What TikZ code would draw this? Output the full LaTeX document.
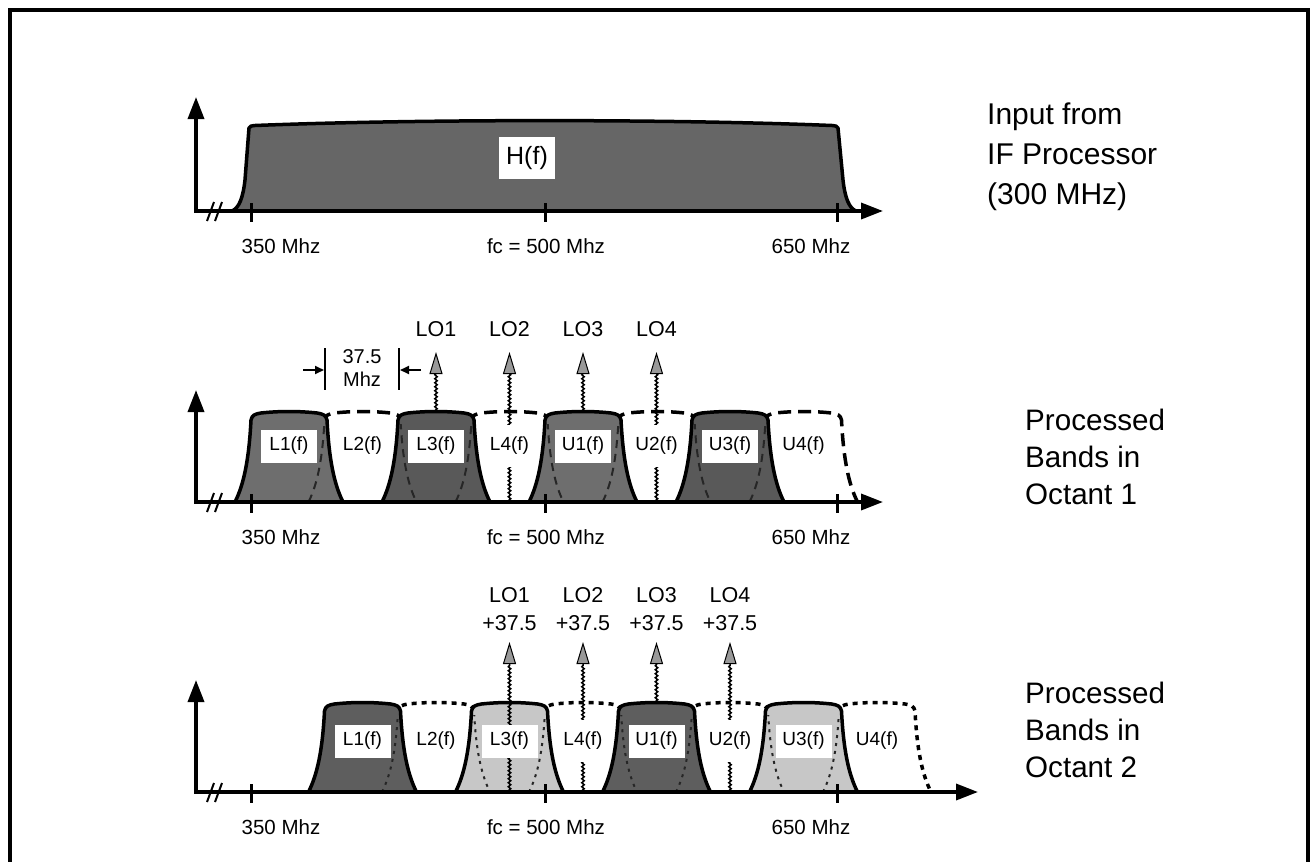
\documentclass[tikz,border=0pt]{standalone}
\usepackage{fontspec}
\setmainfont{Liberation Sans}
\usetikzlibrary{arrows.meta,decorations.pathmorphing}

% band outline: centre, top y, bottom y (pixel coordinates, y downwards)
\newcommand\bandp[3]{({#1-54},#3) .. controls ({#1-45},{#3-18}) and ({#1-40},{#2+45}) .. ({#1-38},{#2+6}) .. controls ({#1-37},{#2+1}) and ({#1-34},{#2}) .. ({#1-28},{#2-1}) .. controls ({#1-10},{#2-3}) and ({#1+10},{#2-3}) .. ({#1+28},{#2-1}) .. controls ({#1+34},{#2}) and ({#1+37},{#2+1}) .. ({#1+38},{#2+6}) .. controls ({#1+40},{#2+45}) and ({#1+45},{#3-18}) .. ({#1+54},#3)}
% left side only of a band
\newcommand\bandleft[3]{({#1-54},#3) .. controls ({#1-45},{#3-18}) and ({#1-40},{#2+45}) .. ({#1-38},{#2+6})}

\tikzset{
  axisline/.style={line width=3.5pt,{Triangle[length=22pt,width=16pt]}-{Triangle[length=22pt,width=16pt]}},
  tickmark/.style={line width=3pt},
  brk/.style={line width=2pt},
  axlab/.style={font=\fontsize{20.5}{24}\selectfont,anchor=base,inner sep=0pt},
  outl/.style={line width=3.5pt,line join=round},
  dashb/.style={outl,dash pattern=on 13pt off 7pt},
  dotb/.style={outl,dash pattern=on 5pt off 5pt},
  hiddendash/.style={line width=2pt,black!85,dash pattern=on 8pt off 6pt},
  hiddendot/.style={line width=2pt,black!85,dash pattern=on 3pt off 5pt},
  blab/.style={font=\fontsize{19}{22}\selectfont,fill=white,inner sep=0pt,minimum width=56pt,minimum height=33pt},
  olab/.style={font=\fontsize{19}{22}\selectfont,fill=white,inner xsep=2pt,inner ysep=0pt,minimum height=42pt},
  wave/.style={decorate,decoration={snake,amplitude=1.2pt,segment length=4pt},line width=1.5pt},
  lohead/.style={-{Triangle[length=22pt,width=13pt,fill=black!40]},line width=1pt},
  lolab/.style={font=\fontsize{21.5}{28}\selectfont,inner sep=0pt,align=center},
  sidelab/.style={inner sep=0pt,align=left,anchor=north west},
  dimarrow/.style={-{Triangle[length=9pt,width=8pt]},line width=2pt},
  dimline/.style={line width=2pt},
}

\newcommand\panelaxes[4]{%
  \coordinate (#1o) at (196,#2);
  \coordinate (#1y) at (196,#3);
  \coordinate (#1x) at (#4,#2);
  \draw[axisline] (#1y) -- (#1o) -- (#1x);
  \foreach \t in {251,545,837} \draw[tickmark] (\t,{#2-8}) -- (\t,{#2+11});
  \draw[brk] (207,{#2+10}) -- (214,{#2-9}) (215,{#2+10}) -- (222,{#2-9});
  \node[axlab] (#1la) at (281,{#2+42}) {350 Mhz};
  \node[axlab] (#1lb) at (546,{#2+42}) {fc = 500 Mhz};
  \node[axlab] (#1lc) at (811,{#2+42}) {650 Mhz};
}

\begin{document}
\begin{tikzpicture}[x=1pt,y=-1pt]
\useasboundingbox (0,0) rectangle (1312,862);
% frame (open at the bottom)
\draw[line width=4pt] (10,870) -- (10,10) -- (1308,10) -- (1308,870);

% ---------------- panel 1 ----------------
\filldraw[fill=black!60,outl] (232,211) .. controls (239,208) and (243,198) .. (245,180) -- (249,128) .. controls (250,126) and (251,126) .. (255,125.5) .. controls (420,119) and (670,119) .. (832,125.5) .. controls (836,126) and (837,126) .. (838,128) -- (843,180) .. controls (845,198) and (849,208) .. (856,211);
\node[blab,font=\fontsize{25}{30}\selectfont,minimum height=42pt] (hf) at (527,158) {H(f)};
\panelaxes{p1}{211}{97}{883}
\node[sidelab,font=\fontsize{30}{40}\selectfont] (in) at (987,103) {Input from\\IF Processor\\(300 MHz)};

% ---------------- panel 2 ----------------
\foreach \c in {362.5,509.5,656.5,803.5} \draw[dashb] \bandp{\c}{414}{502};
\foreach \c/\f in {289/black!57,436/black!65,583/black!57,730/black!65}
  \filldraw[outl,fill=\f] \bandp{\c}{414}{502};
\begin{scope}
  \clip (150,424) rectangle (900,500);
  \foreach \c in {362.5,509.5,656.5} \draw[hiddendash] \bandp{\c}{414}{502};
  \draw[hiddendash] \bandleft{803.5}{414}{502};
\end{scope}
\foreach \i/\x/\e in {1/436/412,2/509.5/502,3/583/412,4/656.5/502}{
  \coordinate (p2e\i) at (\x,\e);
  \coordinate (p2h\i) at (\x,373);
  \coordinate (p2t\i) at (\x,352);
  \draw[wave] (p2e\i) -- (p2h\i);
  \draw[lohead] (p2h\i) -- (p2t\i);
  \node[lolab,anchor=base] (p2lo\i) at (\x,336) {LO\i};
}
\foreach \c/\t/\n in {289/L1(f)/a,436/L3(f)/c,583/U1(f)/e,730/U3(f)/g}
  \node[blab] (p2\n) at (\c,446) {\t};
\foreach \c/\t/\n in {362.5/L2(f)/b,509.5/L4(f)/d,656.5/U2(f)/f,803.5/U4(f)/h}
  \node[olab] (p2\n) at (\c,446) {\t};
% 37.5 Mhz spacing mark
\coordinate (d1t) at (325,348); \coordinate (d1b) at (325,390);
\coordinate (d2t) at (399,348); \coordinate (d2b) at (399,390);
\coordinate (d1s) at (303,370); \coordinate (d1e) at (324,370);
\coordinate (d2s) at (421,370); \coordinate (d2e) at (400,370);
\draw[dimline] (d1t) -- (d1b);
\draw[dimline] (d2t) -- (d2b);
\draw[dimarrow] (d1s) -- (d1e);
\draw[dimarrow] (d2s) -- (d2e);
\node[inner sep=0pt,align=center,font=\fontsize{20}{23}\selectfont] (dim) at (362,368) {37.5\\Mhz};
\panelaxes{p2}{502}{390}{883}
\node[sidelab,font=\fontsize{29.6}{37}\selectfont] (oc1) at (1025,409) {Processed\\Bands in\\Octant 1};

% ---------------- panel 3 ----------------
\foreach \c in {436,583,730,877} \draw[dotb] \bandp{\c}{705}{792};
\foreach \c/\f in {362.5/black!63,509.5/black!22,656.5/black!63,803.5/black!22}
  \filldraw[outl,fill=\f] \bandp{\c}{705}{792};
\begin{scope}
  \clip (150,715) rectangle (1000,790);
  \foreach \c in {436,583,730} \draw[hiddendot] \bandp{\c}{705}{792};
  \draw[hiddendot] \bandleft{877}{705}{792};
\end{scope}
\foreach \i/\x/\e in {1/509.5/792,2/583/792,3/656.5/703,4/730/792}{
  \coordinate (p3e\i) at (\x,\e);
  \coordinate (p3h\i) at (\x,664);
  \coordinate (p3t\i) at (\x,642);
  \draw[wave] (p3e\i) -- (p3h\i);
  \draw[lohead] (p3h\i) -- (p3t\i);
  \node[lolab,anchor=south] (p3lo\i) at (\x,631) {LO\i\\+37.5};
}
\foreach \c/\t/\n in {362.5/L1(f)/a,509.5/L3(f)/c,656.5/U1(f)/e,803.5/U3(f)/g}
  \node[blab] (p3\n) at (\c,741) {\t};
\foreach \c/\t/\n in {436/L2(f)/b,583/L4(f)/d,730/U2(f)/f,877/U4(f)/h}
  \node[olab] (p3\n) at (\c,741) {\t};
\panelaxes{p3}{792}{680}{978}
\node[sidelab,font=\fontsize{29.6}{37}\selectfont] (oc2) at (1025,682) {Processed\\Bands in\\Octant 2};
\end{tikzpicture}
\end{document}
